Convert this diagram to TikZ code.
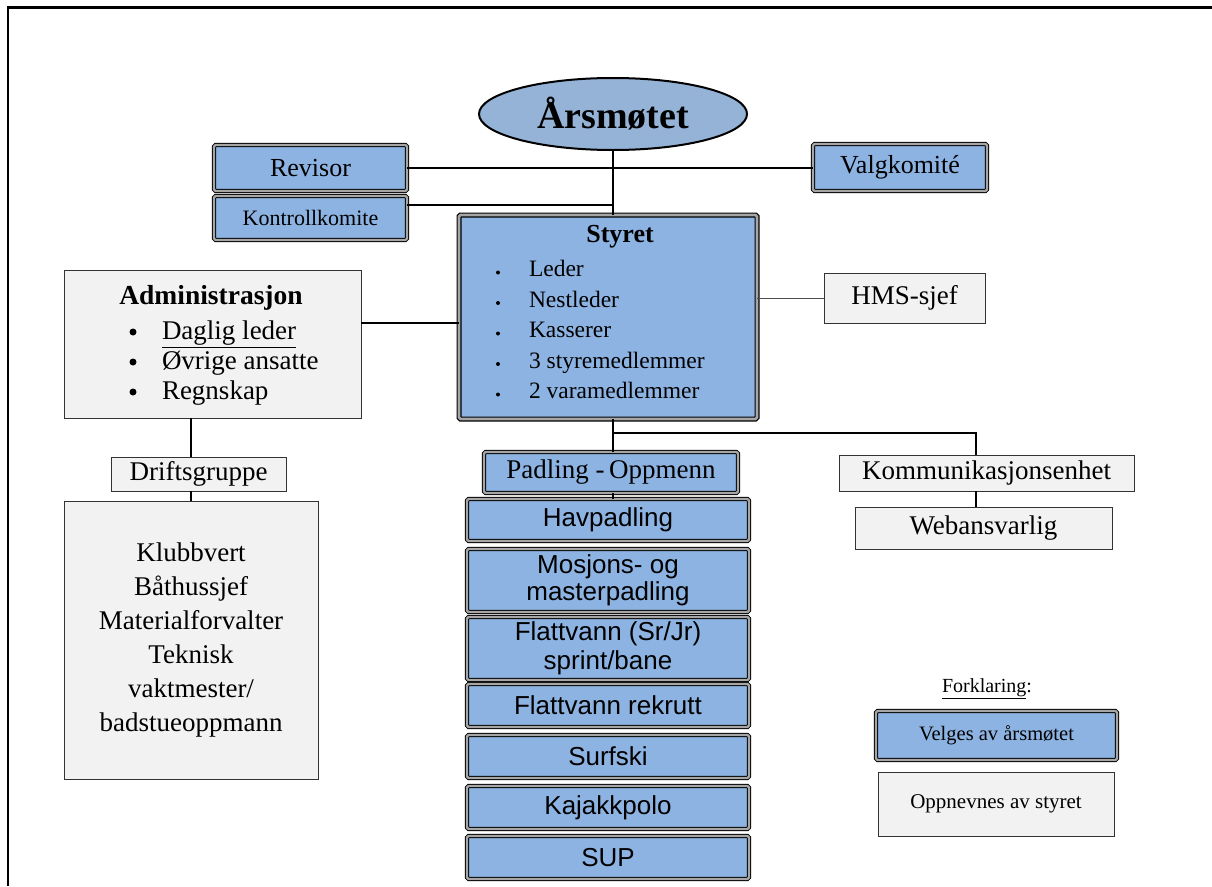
\documentclass[tikz,border=0pt]{standalone}
\usepackage{fontspec}
\setmainfont{Liberation Serif}
\newfontfamily\arialf{Liberation Sans}
\usetikzlibrary{shapes.geometric,calc}
\definecolor{blueF}{HTML}{8DB3E2}
\definecolor{ellF}{HTML}{95B3D7}
\definecolor{grayF}{HTML}{F2F2F2}
\newcommand{\myfs}[1]{\fontsize{#1}{#1}\selectfont}
\begin{document}
\begin{tikzpicture}[x=1pt,y=-1pt,
  base/.style={inner sep=0pt, outer sep=0pt, align=center},
  dbl/.style={base, rectangle, draw=black, line width=0.9pt, double=gray!70, double distance=2.4pt, fill=blueF, rounded corners=1.5pt},
  gbox/.style={base, rectangle, draw=black!80, line width=1pt, fill=grayF},
  conn/.style={line width=2pt},
  thinconn/.style={line width=1pt, draw=black!70},
  item/.style={base, anchor=west, text height=17pt, text depth=2pt}
]
\useasboundingbox (0,0) rectangle (1212,886);
\fill[white] (0,0) rectangle (1212,886);
% frame
\draw[line width=2.5pt] (8,886) -- (8,7.5) -- (1212,7.5);

% top
\node[ellipse, draw=black, line width=2pt, fill=ellF, minimum width=268pt, minimum height=72pt, inner sep=0pt] (arsm) at (613,114) {\myfs{38}\bfseries Årsmøtet};
\node[dbl, minimum width=193pt, minimum height=46pt] (rev) at (310.5,168) {\myfs{26}Revisor};
\node[dbl, minimum width=193pt, minimum height=44pt] (kk) at (310.5,218) {\myfs{22}Kontrollkomite};
\node[dbl, minimum width=174pt, minimum height=47pt] (valg) at (900,167.5) {\myfs{26}Valgkomité};

% Styret
\node[dbl, line width=1.1pt, double distance=2.8pt, minimum width=298pt, minimum height=204pt] (sty) at (608,317) {};
\node[base] (styt) at (620,237) {\myfs{26}\bfseries Styret};
\foreach \t [count=\i] in {Leder, Nestleder, Kasserer, 3 styremedlemmer, 2 varamedlemmer} {
  \node[item] (si\i) at (529, 238.5+30.5*\i) {\myfs{23.5}\t};
  \fill (498, 242+30.5*\i) circle (2pt);
}

% Administrasjon
\node[gbox, minimum width=297pt, minimum height=148pt] (adm) at (212.5,344) {};
\node[base] (admt) at (211,298) {\myfs{27.5}\bfseries Administrasjon};
\node[item] (ad1) at (162,332) {\myfs{27}\underline{Daglig leder}};
\node[item] (ad2) at (162,362) {\myfs{27}Øvrige ansatte};
\node[item] (ad3) at (162,392) {\myfs{27}Regnskap};
\foreach \yy in {332,362,392} { \fill (133,\yy) circle (3.5pt); }

\node[gbox, minimum width=161pt, minimum height=50pt] (hms) at (904.5,298) {\myfs{27}HMS-sjef};
\node[gbox, minimum width=175pt, minimum height=34pt] (drift) at (198.5,474) {\myfs{27}Driftsgruppe};
\node[gbox, minimum width=254pt, minimum height=278pt, font=\fontsize{27}{34}\selectfont] (drm) at (191,640) {Klubbvert\\Båthussjef\\Materialforvalter\\Teknisk\\vaktmester/\\badstueoppmann};

% Padling
\node[dbl, minimum width=254pt, minimum height=41pt] (pad) at (611,472.5) {\myfs{27}Padling -\,Oppmenn};
\node[dbl, minimum width=282pt, minimum height=42pt] (hav) at (608,520) {\arialf\myfs{26}Havpadling};
\node[dbl, minimum width=282pt, minimum height=63pt, font=\arialf\fontsize{26}{27}\selectfont] (mos) at (608,580.5) {Mosjons- og\\masterpadling};
\node[dbl, minimum width=282pt, minimum height=63pt, font=\arialf\fontsize{26}{29}\selectfont] (flt) at (608,648.5) {Flattvann (Sr/Jr)\\sprint/bane};
\node[dbl, minimum width=282pt, minimum height=43pt] (rek) at (608,705.5) {\arialf\myfs{26}Flattvann rekrutt};
\node[dbl, minimum width=282pt, minimum height=43pt] (surf) at (608,756.5) {\arialf\myfs{26}Surfski};
\node[dbl, minimum width=282pt, minimum height=43pt] (kaj) at (608,807.5) {\arialf\myfs{26}Kajakkpolo};
\node[dbl, minimum width=282pt, minimum height=43pt] (sup) at (608,857.5) {\arialf\myfs{26}SUP};

% Kommunikasjon
\node[gbox, minimum width=295pt, minimum height=36pt] (komm) at (986.5,473) {\myfs{27}Kommunikasjonsenhet};
\node[gbox, minimum width=257pt, minimum height=42pt] (web) at (983.5,528) {\myfs{27}Webansvarlig};

% Legend
\node[base] (fork) at (987,689) {\myfs{20}\underline{Forklaring}:};
\node[dbl, minimum width=241pt, minimum height=49pt] (velg) at (996.5,735.5) {\myfs{20.5}Velges av årsmøtet};
\node[gbox, minimum width=236pt, minimum height=64pt] (oppn) at (996,804) {\myfs{21}Oppnevnes av styret};

% connectors
\draw[conn] (rev.east) -- (rev.east -| valg.west);
\draw[conn] (arsm.south) -- (arsm.south |- sty.north);
\coordinate (kkc) at ($(kk.north east)!0.2!(kk.south east)$);
\draw[conn] (kkc) -- (kkc -| arsm.south);
\coordinate (ac) at ($(adm.north east)!0.358!(adm.south east)$);
\draw[conn] (ac) -- (ac -| sty.west);
\draw[thinconn] (hms.west) -- (hms.west -| sty.east);
\draw[conn] (drm.north |- adm.south) -- (drm.north |- drift.north);
\draw[conn] (drm.north |- drift.south) -- (drm.north);
\draw[conn] (arsm.south |- sty.south) -- (arsm.south |- pad.north);
\draw[conn] (arsm.south |- pad.south) -- (arsm.south |- hav.north);
\coordinate (kn) at ($(komm.north west)!0.464!(komm.north east)$);
\coordinate (bry) at ($(sty.south)!0.42!(pad.north)$);
\draw[conn] (arsm.south |- bry) -- (kn |- bry) -- (kn);
\draw[conn] (kn |- komm.south) -- (kn |- web.north);
\end{tikzpicture}
\end{document}
